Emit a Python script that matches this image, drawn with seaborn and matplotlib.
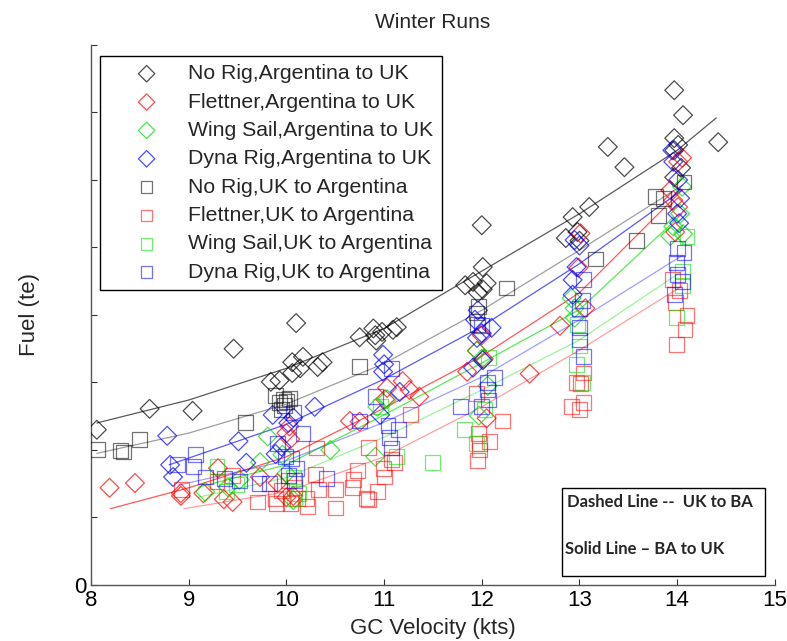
import matplotlib
matplotlib.use("Agg")
import matplotlib.pyplot as plt
import matplotlib.patches as mpatches
import seaborn as sns
import pandas as pd

# ---------------- data ----------------
norig_ab_x = [8.06, 8.60, 9.04, 9.46, 10.10, 9.84, 9.93, 10.06, 10.06, 10.14, 10.17, 10.32, 10.37, 10.75, 10.89, 10.91, 10.98, 11.09, 11.13, 10.92,
              12.01, 11.83, 11.91, 12.05, 11.96, 12.01, 12.00,
              12.93, 12.86, 13.10, 13.29, 13.46, 12.98, 13.00,
              13.97, 14.06, 14.42, 13.97, 14.01, 13.97, 14.04, 13.97]
norig_ab_y = [2.30, 2.61, 2.58, 3.50, 3.88, 3.01, 3.03, 3.30, 3.14, 3.21, 3.38, 3.23, 3.30, 3.67, 3.80, 3.70, 3.75, 3.78, 3.82, 3.62,
              4.71, 4.44, 4.49, 4.47, 4.33, 4.38, 5.33,
              5.45, 5.14, 5.60, 6.49, 6.19, 5.23, 5.10,
              7.33, 6.96, 6.56, 6.62, 6.52, 6.44, 6.18, 6.04]

flet_ab_x = [8.19, 8.45, 8.92, 8.92, 9.15, 9.30, 9.36, 9.45, 9.73, 9.91, 10.00, 10.03, 10.04, 10.07, 10.00, 10.65, 10.75, 11.03, 11.01, 11.19,
             11.26, 11.36, 11.85, 11.95, 12.02, 12.05, 12.49, 12.00, 13.01, 12.99, 12.80, 13.06, 14.05, 14.01, 13.93, 13.96, 14.01, 13.98]
flet_ab_y = [1.44, 1.51, 1.32, 1.36, 1.36, 1.73, 1.27, 1.23, 1.60, 1.51, 2.25, 2.35, 2.16, 1.32, 1.30, 2.43, 2.42, 2.92, 2.75, 3.02,
             2.89, 2.79, 3.16, 3.47, 3.35, 2.47, 3.13, 3.70, 5.21, 4.70, 3.84, 4.10, 6.33, 6.27, 5.85, 5.70, 5.60, 5.23]

wing_ab_x = [9.17, 9.52, 9.73, 9.81, 9.96, 10.07, 10.45, 10.93, 10.91, 11.03, 11.95, 12.00, 12.06, 11.97, 12.92, 12.95, 12.95,
             13.96, 13.93, 14.05, 14.03, 14.06, 9.40, 10.00]
wing_ab_y = [1.38, 1.56, 1.82, 2.20, 1.93, 1.26, 2.00, 2.64, 1.90, 2.75, 3.47, 3.35, 2.95, 2.51, 4.25, 4.10, 3.96,
             5.31, 5.17, 5.90, 5.50, 5.20, 1.45, 1.65]

dyna_ab_x = [8.78, 8.81, 8.84, 9.51, 9.59, 9.86, 9.89, 9.95, 10.02, 10.07, 10.29, 10.99, 11.00, 10.99, 11.16, 10.96,
             11.96, 11.93, 12.10, 11.95, 12.00, 12.01, 11.91, 12.95, 13.00, 12.97, 12.93, 12.93,
             13.95, 13.96, 14.01, 14.03, 14.02, 14.00]
dyna_ab_y = [2.21, 1.78, 1.60, 2.13, 1.81, 2.52, 1.94, 2.05, 2.40, 2.48, 2.64, 3.41, 3.27, 3.16, 2.86, 2.52,
             4.07, 3.93, 3.81, 3.66, 3.73, 3.33, 3.22, 5.11, 5.03, 4.71, 4.52, 4.30,
             6.44, 6.27, 6.00, 5.73, 5.36, 5.50]

norig_ua_x = [8.07, 8.30, 8.33, 8.50, 9.58, 9.89, 9.93, 9.97, 10.00, 10.03, 9.98, 9.95, 10.75, 12.25, 11.95, 11.96, 11.97,
              13.58, 13.16, 13.78, 13.86, 13.81, 14.07]
norig_ua_y = [2.01, 1.99, 1.97, 2.16, 2.41, 2.81, 2.71, 2.75, 2.72, 2.76, 2.66, 2.60, 3.24, 4.40, 4.03, 3.86, 4.12,
              5.11, 4.83, 5.75, 5.73, 5.47, 5.97]

flet_ua_x = [8.93, 9.29, 9.45, 9.70, 9.89, 9.90, 10.04, 10.11, 10.21, 10.22, 10.31, 10.30, 10.33, 10.50, 10.50, 10.68, 10.69, 10.73,
             10.84, 10.84, 10.82, 10.93, 10.99, 11.00, 11.11, 11.27, 11.08, 10.02, 10.08, 9.95,
             12.21, 12.08, 11.97, 11.95, 11.98, 11.98, 11.96, 13.04, 13.01, 12.97, 12.92, 13.00, 13.04,
             14.10, 14.08, 13.99, 14.02, 13.98, 13.95]
flet_ua_y = [1.41, 1.53, 1.62, 1.23, 1.28, 1.21, 1.21, 1.28, 1.28, 1.16, 2.03, 1.64, 1.42, 1.42, 1.14, 1.44, 1.56, 1.69,
             2.04, 1.27, 1.28, 1.39, 1.72, 1.60, 1.81, 2.52, 1.86, 1.55, 1.45, 1.40,
             2.43, 2.13, 2.24, 2.84, 2.09, 2.00, 1.85, 3.14, 2.98, 3.00, 2.64, 2.60, 2.70,
             3.99, 3.78, 3.56, 4.36, 4.19, 4.53]

wing_ua_x = [9.29, 9.39, 9.49, 10.07, 10.12, 10.08, 10.96, 11.13, 11.50, 11.82, 12.07, 11.95, 12.03,
             12.97, 13.03, 13.00, 12.98, 14.10, 14.05, 13.99, 14.05]
wing_ua_y = [1.76, 1.38, 1.49, 1.60, 1.35, 1.28, 2.64, 1.90, 1.82, 2.30, 3.37, 2.09, 2.60,
             3.26, 3.00, 3.54, 3.86, 5.16, 4.65, 3.96, 4.44]

dyna_ua_x = [8.89, 9.07, 9.05, 9.17, 9.37, 9.52, 9.72, 9.83, 9.91, 10.07, 10.17, 9.99, 10.05, 10.10, 10.02, 10.08, 10.41,
             10.75, 10.91, 11.04, 11.08, 11.15, 11.08, 11.06, 11.78, 12.13, 12.06, 12.06, 12.07, 12.00, 12.00,
             13.04, 13.03, 13.00, 13.00, 13.00, 13.04, 14.07, 14.00, 13.99, 14.05, 13.97, 14.00]
dyna_ua_y = [1.78, 1.93, 1.76, 1.60, 1.58, 1.54, 1.51, 1.51, 2.10, 2.56, 2.25, 1.91, 1.88, 1.72, 1.62, 1.55, 1.58,
             2.43, 2.79, 2.36, 3.21, 2.31, 2.03, 2.19, 2.64, 3.07, 3.00, 2.90, 2.74, 2.64, 3.85,
             4.52, 4.22, 4.10, 3.81, 3.63, 3.39, 4.92, 4.98, 4.78, 4.49, 4.30, 4.60]

# fitted trend lines (read at a few speeds)
fit_norig_ab_x = [8.06, 9, 10, 11, 12, 13, 14, 14.4]
fit_norig_ab_y = [2.40, 2.74, 3.21, 3.80, 4.65, 5.50, 6.44, 6.92]
fit_norig_ua_x = [8.06, 9, 10, 11, 12, 13, 14.05]
fit_norig_ua_y = [1.95, 2.25, 2.68, 3.28, 4.07, 4.96, 5.92]
fit_dyna_ab_x = [8.8, 9, 10, 11, 12, 13, 14.05]
fit_dyna_ab_y = [1.78, 1.88, 2.38, 3.05, 3.83, 4.76, 5.85]
fit_dyna_ua_x = [8.9, 10, 11, 12, 13, 14.05]
fit_dyna_ua_y = [1.48, 1.84, 2.41, 3.08, 3.93, 4.88]
fit_flet_ab_x = [8.2, 9, 10, 11, 12, 13, 14.05]
fit_flet_ab_y = [1.13, 1.44, 1.90, 2.62, 3.39, 4.33, 5.85]
fit_flet_ua_x = [8.95, 10, 11, 12, 13, 14.05]
fit_flet_ua_y = [1.13, 1.38, 1.90, 2.64, 3.48, 4.43]
fit_wing_ab_x = [9.1, 10, 11, 12, 13, 14.05]
fit_wing_ab_y = [1.45, 1.78, 2.52, 3.29, 4.08, 5.50]
fit_wing_ua_x = [9.1, 10, 11, 12, 13, 14.05]
fit_wing_ua_y = [1.30, 1.59, 2.19, 2.89, 3.63, 4.65]

labels_ab = ["No Rig,Argentina to UK", "Flettner,Argentina to UK",
             "Wing Sail,Argentina to UK", "Dyna Rig,Argentina to UK"]
labels_ua = ["No Rig,UK to Argentina", "Flettner,UK to Argentina",
             "Wing Sail,UK to Argentina", "Dyna Rig,UK to Argentina"]
x_ticks = [8, 9, 10, 11, 12, 13, 14, 15]
y_ticks = [0, 1, 2, 3, 4, 5, 6, 7, 8]
y_ticklabels = ["0", "", "", "", "", "", "", "", ""]

# ---------------- styling ----------------
sns.set_style("ticks")
plt.rcParams["font.family"] = ["Liberation Sans", "DejaVu Sans"]

colors = ["#000000", "#ff0000", "#00dd00", "#0000ff"]

fig = plt.figure(figsize=(7.87, 6.41), dpi=100)
ax = fig.add_axes([0.1156, 0.0874, 0.869, 0.8424])

ab_sets = [(norig_ab_x, norig_ab_y), (flet_ab_x, flet_ab_y), (wing_ab_x, wing_ab_y), (dyna_ab_x, dyna_ab_y)]
ua_sets = [(norig_ua_x, norig_ua_y), (flet_ua_x, flet_ua_y), (wing_ua_x, wing_ua_y), (dyna_ua_x, dyna_ua_y)]
fit_ab = [(fit_norig_ab_x, fit_norig_ab_y), (fit_flet_ab_x, fit_flet_ab_y), (fit_wing_ab_x, fit_wing_ab_y), (fit_dyna_ab_x, fit_dyna_ab_y)]
fit_ua = [(fit_norig_ua_x, fit_norig_ua_y), (fit_flet_ua_x, fit_flet_ua_y), (fit_wing_ua_x, fit_wing_ua_y), (fit_dyna_ua_x, fit_dyna_ua_y)]

for (xs, ys), lab, c in zip(ab_sets, labels_ab, colors):
    df = pd.DataFrame({"x": xs, "y": ys})
    sns.scatterplot(data=df, x="x", y="y", marker="D", s=92, color=c, facecolor="none",
                    edgecolor=c, linewidth=0.9, alpha=0.7, ax=ax, label=lab, zorder=3)
for (xs, ys), lab, c in zip(ua_sets, labels_ua, colors):
    df = pd.DataFrame({"x": xs, "y": ys})
    sns.scatterplot(data=df, x="x", y="y", marker="s", s=115, color=c, facecolor="none",
                    edgecolor=c, linewidth=0.9, alpha=0.55, ax=ax, label=lab, zorder=3)

for (xs, ys), c in zip(fit_ab, colors):
    sns.lineplot(x=xs, y=ys, color=c, linewidth=0.9, alpha=0.65, ax=ax, sort=False, zorder=2)
for (xs, ys), c in zip(fit_ua, colors):
    sns.lineplot(x=xs, y=ys, color=c, linewidth=0.9, alpha=0.38, ax=ax, sort=False, zorder=2)

ax.set_xlim(8, 15)
ax.set_ylim(0, 8)
ax.set_xticks(x_ticks)
ax.set_yticks(y_ticks)
ax.set_yticklabels(y_ticklabels)
ax.tick_params(direction="in", length=4, width=0.8, labelsize=16, colors="#333333", labelcolor="black")
for side in ["top", "right"]:
    ax.spines[side].set_visible(False)
for side in ["left", "bottom"]:
    ax.spines[side].set_color("#555555")
    ax.spines[side].set_linewidth(1.0)

ax.set_title("Winter Runs", fontsize=15, pad=12)
ax.set_xlabel("GC Velocity (kts)", fontsize=16)
ax.set_ylabel("Fuel (te)", fontsize=16)
ax.xaxis.set_label_coords(0.5, -0.062)
ax.yaxis.set_label_coords(-0.075, 0.5)

h, l = ax.get_legend_handles_labels()
leg = ax.legend(h[:8], l[:8], loc="upper left", bbox_to_anchor=(0.013, 0.98), fontsize=15.3,
                frameon=True, fancybox=False, edgecolor="black", framealpha=1,
                scatterpoints=1, handlelength=3.6, handletextpad=0.15, labelspacing=0.44,
                borderpad=0.4, borderaxespad=0)
leg.get_frame().set_linewidth(1.0)
for hd in leg.legend_handles:
    hd.set_sizes([70])

# annotation box
rect = mpatches.Rectangle((0.714, 0.1014), 0.258, 0.1373, transform=fig.transFigure,
                          fill=False, edgecolor="black", linewidth=1.0)
fig.patches.append(rect)
fig.text(0.7205, 0.2168, "Dashed Line --  UK to BA", fontsize=12, fontweight="bold",
         family=["Lato", "DejaVu Sans"], va="center", ha="left")
fig.text(0.718, 0.1435, "Solid Line \u2013 BA to UK", fontsize=12, fontweight="bold",
         family=["Lato", "DejaVu Sans"], va="center", ha="left")

fig.savefig("out.png", dpi=100)
